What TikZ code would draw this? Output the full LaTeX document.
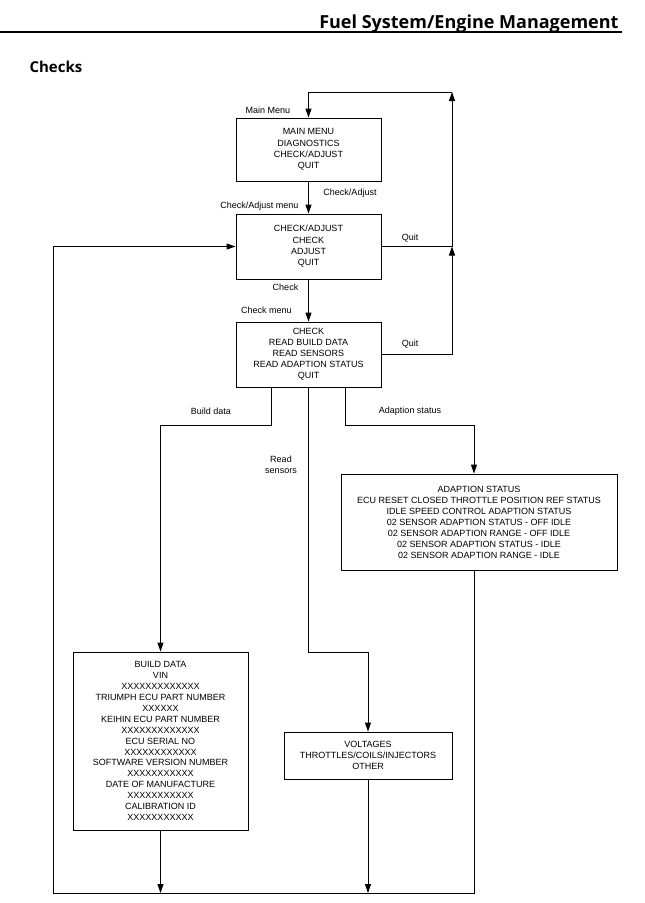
\documentclass[tikz,border=0pt]{standalone}
\usepackage{fontspec}
\setmainfont{Liberation Sans}
\newfontfamily\headfont{Open Sans}
\usetikzlibrary{arrows.meta}
\tikzstyle{every node}=[font=\fontsize{9}{11.3}\selectfont]
\tikzstyle{menubox}=[draw=black,line width=0.9pt,align=center,inner sep=0pt]
\tikzstyle{link}=[line width=0.9pt]
\tikzstyle{flow}=[link,-{Triangle[length=9pt,width=6pt]}]

\begin{document}
\begin{tikzpicture}[x=1pt,y=-1pt]
    \useasboundingbox (0,0) rectangle (645,903);
    \node[anchor=base east,font=\headfont\bfseries\fontsize{18}{20}\selectfont] (title) at (622,28) {Fuel System/Engine Management};
    \draw[line width=1.2pt] (0,32) -- (622,32);
    \node[anchor=base west,font=\headfont\bfseries\fontsize{15}{17}\selectfont] (checks) at (26,72) {Checks};

    \node[menubox,minimum width=145pt,minimum height=63pt] (mainmenu) at (308.5,149.5)
        {MAIN MENU\\DIAGNOSTICS\\CHECK/ADJUST\\QUIT};
    \node[menubox,minimum width=145pt,minimum height=65pt] (adjmenu) at (308.5,246.5)
        {CHECK/ADJUST\\CHECK\\ADJUST\\QUIT};
    \node[menubox,minimum width=145pt,minimum height=65pt,font=\fontsize{9}{11}\selectfont] (checkmenu) at (308.5,354.5)
        {CHECK\\READ BUILD DATA\\READ SENSORS\\READ ADAPTION STATUS\\QUIT};
    \node[menubox,minimum width=276pt,minimum height=96pt,font=\fontsize{9}{11}\selectfont] (adaption) at (479,522)
        {ADAPTION STATUS\\ECU RESET CLOSED THROTTLE POSITION REF STATUS\\IDLE SPEED CONTROL ADAPTION STATUS\\02 SENSOR ADAPTION STATUS - OFF IDLE\\02 SENSOR ADAPTION RANGE - OFF IDLE\\02 SENSOR ADAPTION STATUS - IDLE\\02 SENSOR ADAPTION RANGE - IDLE};
    \node[menubox,minimum width=175pt,minimum height=178pt,font=\fontsize{9}{10.9}\selectfont] (builddata) at (160.5,741)
        {BUILD DATA\\VIN\\XXXXXXXXXXXXX\\TRIUMPH ECU PART NUMBER\\XXXXXX\\KEIHIN ECU PART NUMBER\\XXXXXXXXXXXXX\\ECU SERIAL NO\\XXXXXXXXXXXX\\SOFTWARE VERSION NUMBER\\XXXXXXXXXXX\\DATE OF MANUFACTURE\\XXXXXXXXXXX\\CALIBRATION ID\\XXXXXXXXXXX};
    \node[menubox,minimum width=168pt,minimum height=47pt] (sensors) at (368,755.5)
        {VOLTAGES\\THROTTLES/COILS/INJECTORS\\OTHER};

    \node (lblmain) at (268,110) {Main Menu};
    \node (lbladjust) at (350,193) {Check/Adjust};
    \node (lbladjmenu) at (259.5,206) {Check/Adjust menu};
    \node (lblquita) at (410,238) {Quit};
    \node (lblcheck) at (285.5,287) {Check};
    \node (lblcheckmenu) at (266.5,310) {Check menu};
    \node (lblquitc) at (410,344) {Quit};
    \node (lblbuild) at (211,411) {Build data};
    \node (lbladaption) at (410,411) {Adaption status};
    \node[align=center,font=\fontsize{9}{11}\selectfont] (lblsensors) at (281,465) {Read\\sensors};

    \coordinate (topright) at (452,92);
    \coordinate (quitA) at (452,246.5);
    \coordinate (quitC) at (452,354.5);
    \coordinate (bottomleft) at (53,893);
    \coordinate (bottomright) at (474,893);

    \draw[flow] (mainmenu.south) -- (adjmenu.north);
    \draw[flow] (adjmenu.south) -- (checkmenu.north);
    \draw[link] (adjmenu.east) -- (quitA);
    \draw[flow] (quitA) -- (topright);
    \draw[flow] (topright) -| (mainmenu.north);
    \draw[flow] (checkmenu.east) -- (quitC) -- (quitA);
    \draw[flow] ([xshift=-37.5pt]checkmenu.south) -- ++(0,37.5) -| (builddata.north);
    \draw[flow] ([xshift=36.5pt]checkmenu.south) -- ++(0,37.5) -| ([xshift=-5pt]adaption.north);
    \draw[flow] (checkmenu.south) -- ++(0,264.5) -| (sensors.north);
    \draw[flow] (builddata.south) -- (builddata.south |- bottomleft);
    \draw[flow] (sensors.south) -- (sensors.south |- bottomleft);
    \draw[flow] ([xshift=-5pt]adaption.south) -- (bottomright) -- (bottomleft) |- (adjmenu.west);
\end{tikzpicture}
\end{document}
